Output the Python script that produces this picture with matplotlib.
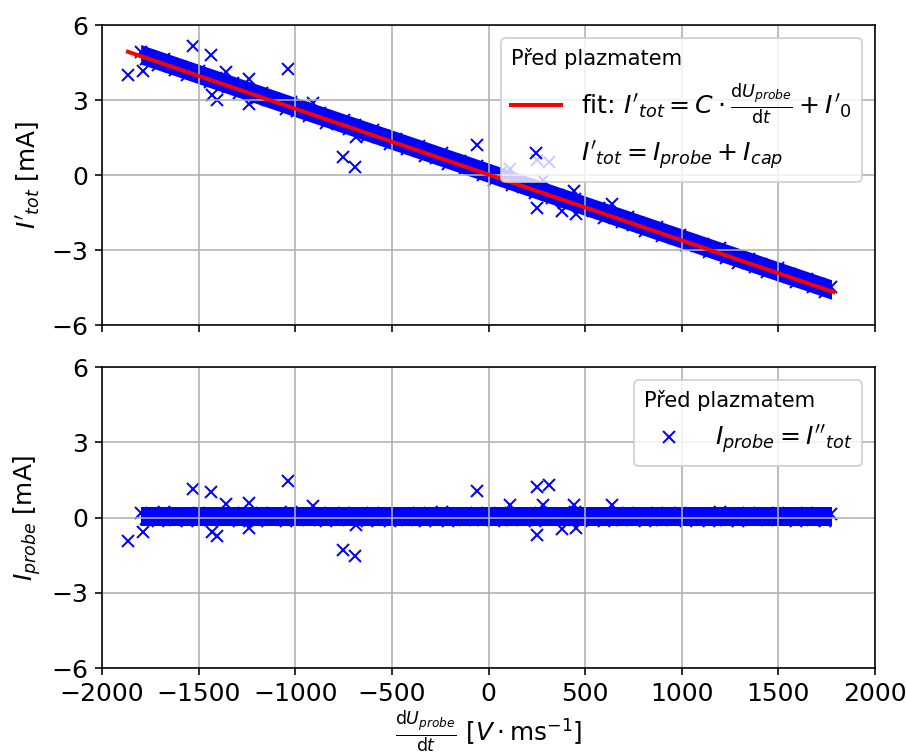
import numpy as np
import matplotlib.pyplot as plt

# dense band of measured points (x in V/ms, currents in mA)
band_x = [-1800, -1770, -1740, -1710, -1680, -1650, -1620, -1590, -1560, -1530,
          -1500, -1470, -1440, -1410, -1380, -1350, -1320, -1290, -1260, -1230,
          -1200, -1170, -1140, -1110, -1080, -1050, -1020, -990, -960, -930,
          -900, -870, -840, -810, -780, -750, -720, -690, -660, -630,
          -600, -570, -540, -510, -480, -450, -420, -390, -360, -330,
          -300, -270, -240, -210, -180, -150, -120, -90, -60, -30,
          0, 30, 60, 90, 120, 150, 180, 210, 240, 270,
          300, 330, 360, 390, 420, 450, 480, 510, 540, 570,
          600, 630, 660, 690, 720, 750, 780, 810, 840, 870,
          900, 930, 960, 990, 1020, 1050, 1080, 1110, 1140, 1170,
          1200, 1230, 1260, 1290, 1320, 1350, 1380, 1410, 1440, 1470,
          1500, 1530, 1560, 1590, 1620, 1650, 1680, 1710, 1740, 1770]

band_tot = [4.94, 4.64, 4.67, 4.40, 4.66, 4.37, 4.20, 4.34, 4.00, 4.14,
            4.17, 3.87, 3.71, 3.89, 3.68, 3.51, 3.70, 3.29, 3.44, 3.31,
            3.07, 3.29, 3.01, 3.06, 2.93, 2.66, 2.93, 2.58, 2.69, 2.38,
            2.41, 2.49, 2.09, 2.24, 2.04, 2.19, 1.84, 1.99, 1.80, 1.56,
            1.81, 1.52, 1.55, 1.23, 1.45, 1.27, 1.06, 1.18, 1.16, 0.78,
            0.86, 0.69, 0.87, 0.43, 0.59, 0.56, 0.27, 0.28, 0.36, 0.00,
            0.10, -0.19, 0.07, -0.19, -0.38, -0.21, -0.48, -0.41, -0.73, -0.49,
            -0.76, -0.91, -0.78, -1.10, -1.03, -0.94, -1.35, -1.23, -1.42, -1.31,
            -1.70, -1.53, -1.68, -1.87, -1.68, -2.00, -1.90, -2.24, -2.16, -2.09,
            -2.44, -2.35, -2.52, -2.38, -2.79, -2.64, -2.85, -2.74, -3.09, -2.99,
            -2.92, -3.30, -3.18, -3.52, -3.42, -3.34, -3.66, -3.55, -3.87, -3.76,
            -3.72, -4.03, -3.94, -4.29, -4.19, -4.14, -4.47, -4.37, -4.69, -4.47]

band_probe = [0.17, -0.05, 0.06, -0.13, 0.21, 0.00, -0.09, 0.12, -0.14, 0.08,
              0.19, -0.03, -0.11, 0.15, 0.02, -0.07, 0.20, -0.14, 0.09, 0.04,
              -0.12, 0.18, -0.02, 0.11, 0.06, -0.13, 0.21, -0.06, 0.13, -0.10,
              0.01, 0.17, -0.15, 0.08, -0.04, 0.19, -0.09, 0.14, 0.03, -0.13,
              0.20, -0.01, 0.10, -0.14, 0.16, 0.05, -0.08, 0.12, 0.18, -0.12,
              0.04, -0.05, 0.21, -0.15, 0.09, 0.13, -0.08, 0.01, 0.17, -0.11,
              0.07, -0.14, 0.20, 0.02, -0.09, 0.15, -0.04, 0.11, -0.13, 0.19,
              0.00, -0.07, 0.14, -0.10, 0.05, 0.21, -0.12, 0.08, -0.03, 0.16,
              -0.15, 0.10, 0.03, -0.08, 0.19, -0.06, 0.12, -0.14, 0.02, 0.17,
              -0.10, 0.07, -0.02, 0.20, -0.13, 0.09, -0.04, 0.15, -0.12, 0.06,
              0.21, -0.09, 0.11, -0.15, 0.03, 0.18, -0.06, 0.13, -0.11, 0.08,
              0.20, -0.03, 0.14, -0.13, 0.05, 0.17, -0.08, 0.10, -0.14, 0.16]

# extent of the solidly covered part of the cloud
edge_x = [-1800, -1500, -1000, -500, 0, 500, 1000, 1500, 1775]
edge_tot_hi = [5.22, 4.43, 3.11, 1.80, 0.48, -0.84, -2.15, -3.47, -4.19]
edge_tot_lo = [4.44, 3.65, 2.33, 1.02, -0.30, -1.62, -2.93, -4.25, -4.97]
edge_probe_hi = [0.42, 0.42, 0.42, 0.42, 0.42, 0.42, 0.42, 0.42, 0.42]
edge_probe_lo = [-0.32, -0.32, -0.32, -0.32, -0.32, -0.32, -0.32, -0.32, -0.32]

# outlying points
out_x = [-1864, -1789, -1528, -1436, -1360, -1433, -1407, -1238, -1238, -1039,
         -908, -752, -691, -686, -57, 109, 250, 281, 312, 250, 379, 440, 455, 638]
out_tot = [4.00, 4.16, 5.18, 4.81, 4.14, 3.22, 2.99, 3.86, 2.86, 4.23,
           2.89, 0.71, 0.31, 1.54, 1.22, 0.24, 0.59, -0.21, 0.51, -1.33, -1.44, -0.63, -1.57, -1.15]
out_probe = [-0.94, -0.58, 1.13, 1.00, 0.53, -0.58, -0.74, 0.57, -0.43, 1.47,
             0.47, -1.30, -1.54, -0.30, 1.04, 0.50, 1.22, 0.50, 1.30, -0.70, -0.47, 0.50, -0.40, 0.50]

# fitted line end points
fit_x = [-1866, 1785]
fit_y = [4.93, -4.68]

title = 'Před plazmatem'

fig = plt.figure(figsize=(906/144, 756/144), dpi=144)
ax1 = fig.add_axes([0.1126, 0.5701, 0.8532, 0.3968])
ax2 = fig.add_axes([0.1126, 0.1164, 0.8532, 0.3981], sharex=ax1)

# the cloud sits under the grid, like a scatter collection
ax1.fill_between(edge_x, edge_tot_lo, edge_tot_hi, color='b', lw=0, zorder=1)
ax1.plot(band_x, band_tot, 'x', color='b', zorder=1)
pts, = ax1.plot(out_x, out_tot, 'x', color='b', zorder=1,
                label=r"$I'_{tot} = I_{probe} + I_{cap}$")
fit, = ax1.plot(fit_x, fit_y, '-', color='r', lw=2, zorder=3,
                label=r"fit: $I'_{tot} = C \cdot \frac{\mathrm{d}U_{probe}}{\mathrm{d}t} + I'_0$")
ax1.legend(handles=[fit, pts], title=title, loc='upper right', alignment='left',
           fontsize=12.6, title_fontsize=10.5)
ax1.set_ylabel(r"$I'_{tot}$ [mA]", fontsize=12.4)

ax2.fill_between(edge_x, edge_probe_lo, edge_probe_hi, color='b', lw=0, zorder=1)
ax2.plot(band_x, band_probe, 'x', color='b', zorder=1)
ax2.plot(out_x, out_probe, 'x', color='b', zorder=1, label=r"$I_{probe} = I''_{tot}$")
ax2.legend(title=title, loc='upper right', alignment='left',
           fontsize=12.6, title_fontsize=10.5)
ax2.set_ylabel(r"$I_{probe}$ [mA]", fontsize=12.4)
ax2.set_xlabel(r"$\frac{\mathrm{d}U_{probe}}{\mathrm{d}t}$ $[V \cdot \mathrm{ms}^{-1}]$",
               fontsize=12.4, labelpad=2)

for ax in (ax1, ax2):
    ax.set_xlim(-2000, 2000)
    ax.set_ylim(-6, 6)
    ax.set_yticks([-6, -3, 0, 3, 6])
    ax.grid(True)
    ax.tick_params(labelsize=12.5)
plt.setp(ax1.get_xticklabels(), visible=False)

fig.savefig('out.png', dpi=144)
